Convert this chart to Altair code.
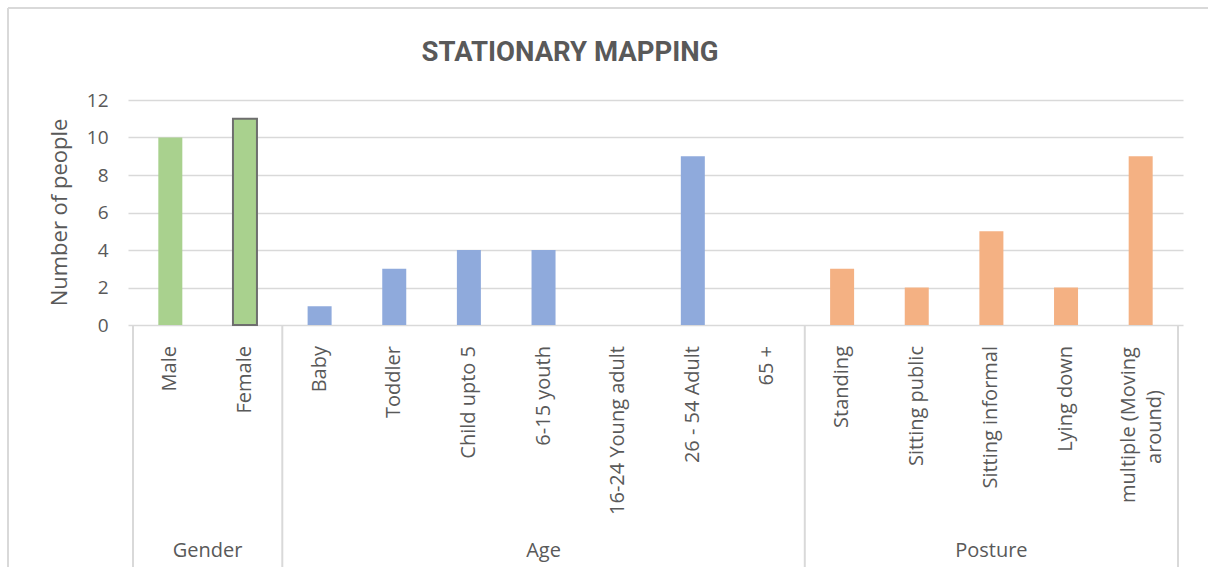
import altair as alt
import pandas as pd

categories = ["Male", "Female", "Baby", "Toddler", "Child upto 5", "6-15 youth",
              "16-24 Young adult", "26 - 54 Adult", "65 +", "Standing",
              "Sitting public", "Sitting informal", "Lying down",
              "multiple (Moving around)"]
line1 = categories[:-1] + ["multiple (Moving"]
line2 = [""] * 13 + ["around)"]
values = [10, 11, 1, 3, 4, 4, 0, 9, 0, 3, 2, 5, 2, 9]
groups = ["Gender"] * 2 + ["Age"] * 7 + ["Posture"] * 5
group_names = ["Gender", "Age", "Posture"]
group_colors = ["#A9D18E", "#8FAADC", "#F4B183"]
y_ticks = [0, 2, 4, 6, 8, 10, 12]
title_text = "STATIONARY MAPPING"

TXT = "#595959"
GRID = "#D9D9D9"
FONT = "Open Sans"

n = len(categories)
df = pd.DataFrame({
    "category": categories,
    "line1": line1,
    "line2": line2,
    "value": values,
    "group": groups,
    "pos": [i + 0.5 for i in range(n)],
    "multi": [l != "" for l in line2],
})

counts = [groups.count(g) for g in group_names]
starts = [sum(counts[:i]) for i in range(len(counts))]
ends = [s + c for s, c in zip(starts, counts)]
gdf = pd.DataFrame({
    "group": group_names,
    "center": [(s + e) / 2 for s, e in zip(starts, ends)],
})
bdf = pd.DataFrame({"boundary": [0] + ends})

xs = alt.Scale(domain=[0, n], nice=False, zero=False)
one = pd.DataFrame({"t": [title_text]})

frame_top = alt.Chart(one).mark_rule(color=GRID, strokeWidth=2).encode(
    x=alt.value(-120), x2=alt.value(1090), y=alt.value(-92))
frame_left = alt.Chart(one).mark_rule(color=GRID, strokeWidth=2).encode(
    x=alt.value(-120), y=alt.value(-92), y2=alt.value(467))

title = alt.Chart(one).mark_text(
    font="Roboto, Liberation Sans, sans-serif", fontSize=27.5, fontWeight="bold", color=TXT,
    align="center", baseline="alphabetic"
).encode(x=alt.value(442), y=alt.value(-39), text="t:N")

separators = alt.Chart(bdf).mark_rule(color=GRID, strokeWidth=2).encode(
    x=alt.X("boundary:Q", scale=xs, axis=None),
    y=alt.value(225), y2=alt.value(467))

bars = alt.Chart(df).mark_bar(width=24).encode(
    x=alt.X("pos:Q", scale=xs, axis=None),
    y=alt.Y("value:Q", scale=alt.Scale(domain=[0, 12], nice=False),
            axis=alt.Axis(values=y_ticks, grid=True, gridColor=GRID, gridWidth=1.5,
                          domain=False, ticks=False, labelFont=FONT, labelFontSize=19,
                          labelColor=TXT, labelPadding=20,
                          title="Number of people", titleFont=FONT, titleFontSize=22,
                          titleFontWeight="normal", titleColor=TXT,
                          titleX=-69, titleY=112, titleAngle=270,
                          titleAlign="center", titleBaseline="middle")),
    color=alt.Color("group:N", scale=alt.Scale(domain=group_names, range=group_colors),
                    legend=None),
    stroke=alt.value("#6E6E6E"),
    strokeWidth=alt.condition(alt.datum.category == "Female", alt.value(2), alt.value(0)),
)

text_single = alt.Chart(df).transform_filter("!datum.multi").mark_text(
    angle=270, align="right", baseline="middle", font=FONT, fontSize=20, color=TXT
).encode(x=alt.X("pos:Q", scale=xs, axis=None), y=alt.value(246), text="line1:N")

text_m1 = alt.Chart(df).transform_filter("datum.multi").mark_text(
    angle=270, align="center", baseline="middle", font=FONT, fontSize=20, color=TXT,
    dy=-12
).encode(x=alt.X("pos:Q", scale=xs, axis=None), y=alt.value(325), text="line1:N")

text_m2 = alt.Chart(df).transform_filter("datum.multi").mark_text(
    angle=270, align="center", baseline="middle", font=FONT, fontSize=20, color=TXT,
    dy=14
).encode(x=alt.X("pos:Q", scale=xs, axis=None), y=alt.value(327), text="line2:N")

group_text = alt.Chart(gdf).mark_text(
    align="center", baseline="middle", font=FONT, fontSize=20, color=TXT
).encode(x=alt.X("center:Q", scale=xs, axis=None), y=alt.value(451), text="group:N")

chart = alt.layer(
    frame_top, frame_left, title, separators, bars, text_single, text_m1, text_m2,
    group_text
).properties(
    width=1055, height=225,
    autosize=alt.AutoSizeParams(type="none"),
    padding={"left": 128, "top": 100, "right": 25, "bottom": 250},
    background="white",
).configure_view(stroke=None)

chart.save("out.html", embed_options={"renderer": "svg", "actions": False})
